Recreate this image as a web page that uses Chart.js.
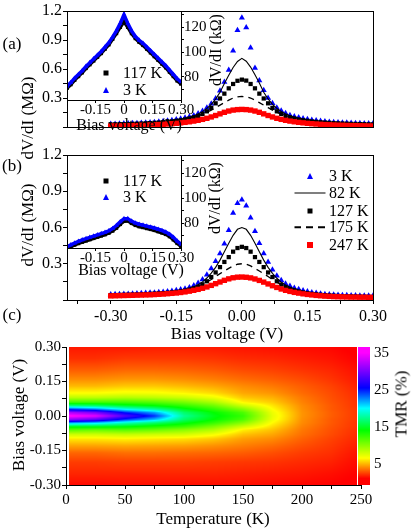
<!DOCTYPE html>
<html lang="en">
<head>
<meta charset="UTF-8">
<title>dV/dI and TMR</title>
<script src="https://cdn.jsdelivr.net/npm/chart.js"></script>
<style>
  body { margin: 0; background: #fff; }
  #wrap { position: relative; width: 412px; height: 528px; font-family: 'Liberation Serif', 'Times New Roman', serif; color: #000; }
  canvas { position: absolute; left: 0; top: 0; }
  .t { position: absolute; white-space: nowrap; transform: translate(-50%, -50%); font-size: 17px; line-height: 1; }
  .rot { transform: translate(-50%, -50%) rotate(-90deg); }
  .lg { position: absolute; white-space: nowrap; font-size: 16px; line-height: 1; transform: translateY(-50%); }
  .sym { position: absolute; transform: translate(-50%, -50%); }
  .tri { width: 0; height: 0; border-left: 3.5px solid transparent; border-right: 3.5px solid transparent; border-bottom: 6px solid #0000ff; }
  .sq { width: 5px; height: 5px; background: #000; }
</style>
</head>
<body>
<div id="wrap">
  <canvas id="mainA" width="412" height="528"></canvas>
  <canvas id="mainB" width="412" height="528"></canvas>
  <canvas id="insetA" width="412" height="528"></canvas>
  <canvas id="insetB" width="412" height="528"></canvas>
  <canvas id="heat" width="412" height="528"></canvas>

  <div class="t" style="left:12px; top:43px;">(a)</div>
  <div class="t" style="left:12px; top:165px;">(b)</div>
  <div class="t" style="left:12px; top:314px;">(c)</div>

  <div class="t rot" style="left:27px; top:118px;">dV/dI (MΩ)</div>
  <div class="t rot" style="left:27px; top:225px;">dV/dI (MΩ)</div>
  <div class="t" style="left:227px; top:333px;">Bias voltage (V)</div>

  <div class="t" style="left:129px; top:125px; font-size:16px;">Bias voltage (V)</div>
  <div class="t" style="left:131px; top:270px; font-size:16px;">Bias voltage (V)</div>
  <div class="t rot" style="left:216px; top:50px; font-size:16px;">dV/dI (kΩ)</div>
  <div class="t rot" style="left:215px; top:198px; font-size:16px;">dV/dI (kΩ)</div>

  <div class="sym sq" style="left:106px; top:73px;"></div>
  <div class="lg" style="left:123px; top:73px;">117 K</div>
  <div class="sym tri" style="left:106px; top:90px;"></div>
  <div class="lg" style="left:123px; top:90px;">3 K</div>
  <div class="sym sq" style="left:106px; top:181px;"></div>
  <div class="lg" style="left:123px; top:181px;">117 K</div>
  <div class="sym tri" style="left:106px; top:197px;"></div>
  <div class="lg" style="left:123px; top:197px;">3 K</div>

  <div class="sym tri" style="left:310px; top:176px;"></div>
  <div class="lg" style="left:329px; top:176px;">3 K</div>
  <div class="sym" style="left:310px; top:193px; width:31px; height:1px; background:#000;"></div>
  <div class="lg" style="left:329px; top:193px;">82 K</div>
  <div class="sym sq" style="left:310px; top:211px;"></div>
  <div class="lg" style="left:329px; top:211px;">127 K</div>
  <div class="sym" style="left:310px; top:227px; width:31px; height:1.5px; background:repeating-linear-gradient(to right, #000 0 7px, transparent 7px 12px);"></div>
  <div class="lg" style="left:329px; top:227px;">175 K</div>
  <div class="sym sq" style="left:310px; top:245px; width:6px; height:6px; background:#ff0000;"></div>
  <div class="lg" style="left:329px; top:245px;">247 K</div>

  <div class="t rot" style="left:18px; top:415px;">Bias voltage (V)</div>
  <div class="t" style="left:213px; top:518px;">Temperature (K)</div>
  <div class="t rot" style="left:401px; top:404px;">TMR (%)</div>
</div>

<script>
// bias points of the main curves (V)
const biasMain = [-0.30,-0.29,-0.28,-0.27,-0.26,-0.25,-0.24,-0.23,-0.22,-0.21,-0.20,-0.19,-0.18,-0.17,-0.16,-0.15,-0.14,-0.13,-0.12,-0.11,-0.10,-0.09,-0.08,-0.07,-0.06,-0.05,-0.04,-0.03,-0.02,-0.01,0,0.01,0.02,0.03,0.04,0.05,0.06,0.07,0.08,0.09,0.10,0.11,0.12,0.13,0.14,0.15,0.16,0.17,0.18,0.19,0.20,0.21,0.22,0.23,0.24,0.25,0.26,0.27,0.28,0.29,0.30];

// panel (a), dV/dI in MOhm
const a3K   = [0.031,0.032,0.033,0.035,0.036,0.038,0.040,0.042,0.044,0.047,0.050,0.054,0.059,0.064,0.070,0.077,0.085,0.095,0.106,0.120,0.140,0.166,0.198,0.240,0.295,0.375,0.465,0.590,0.790,1.000,1.130,1.030,0.820,0.610,0.480,0.380,0.300,0.245,0.200,0.168,0.142,0.122,0.108,0.097,0.087,0.079,0.072,0.066,0.061,0.057,0.053,0.050,0.047,0.045,0.043,0.041,0.040,0.038,0.037,0.036,0.035];
const a82K  = [0.031,0.032,0.033,0.034,0.036,0.037,0.039,0.041,0.043,0.046,0.049,0.053,0.057,0.061,0.067,0.073,0.081,0.090,0.101,0.115,0.134,0.159,0.192,0.234,0.289,0.360,0.450,0.535,0.615,0.678,0.710,0.680,0.620,0.540,0.455,0.360,0.290,0.235,0.193,0.160,0.135,0.116,0.102,0.091,0.082,0.074,0.068,0.062,0.058,0.054,0.050,0.047,0.044,0.042,0.040,0.038,0.037,0.035,0.034,0.033,0.032];
const a127K = [0.026,0.027,0.028,0.029,0.030,0.032,0.034,0.036,0.038,0.040,0.043,0.046,0.049,0.053,0.058,0.064,0.070,0.078,0.088,0.100,0.115,0.135,0.162,0.198,0.245,0.295,0.345,0.400,0.445,0.478,0.490,0.480,0.445,0.400,0.345,0.295,0.245,0.198,0.162,0.135,0.115,0.100,0.088,0.078,0.070,0.064,0.058,0.053,0.049,0.046,0.043,0.040,0.038,0.036,0.034,0.032,0.031,0.030,0.029,0.028,0.027];
const a175K = [0.021,0.022,0.023,0.025,0.026,0.028,0.030,0.032,0.034,0.037,0.040,0.044,0.048,0.052,0.058,0.064,0.071,0.080,0.090,0.102,0.116,0.133,0.153,0.175,0.200,0.226,0.252,0.278,0.300,0.312,0.316,0.312,0.300,0.278,0.252,0.226,0.200,0.175,0.153,0.133,0.116,0.102,0.090,0.080,0.071,0.064,0.058,0.052,0.048,0.044,0.040,0.037,0.034,0.032,0.030,0.028,0.026,0.025,0.023,0.022,0.021];
const a247K = [0.010,0.011,0.012,0.013,0.014,0.015,0.016,0.018,0.019,0.021,0.023,0.025,0.028,0.031,0.034,0.038,0.043,0.048,0.054,0.061,0.069,0.079,0.090,0.104,0.119,0.136,0.152,0.165,0.175,0.180,0.182,0.180,0.175,0.165,0.152,0.136,0.119,0.104,0.090,0.079,0.069,0.061,0.054,0.048,0.043,0.038,0.034,0.031,0.028,0.025,0.023,0.021,0.019,0.018,0.016,0.015,0.014,0.013,0.012,0.011,0.010];

// panel (b), dV/dI in MOhm
const b3K   = [0.046,0.047,0.048,0.049,0.050,0.051,0.053,0.055,0.057,0.059,0.061,0.064,0.067,0.071,0.075,0.080,0.086,0.094,0.104,0.120,0.140,0.170,0.210,0.260,0.320,0.385,0.465,0.578,0.720,0.800,0.830,0.780,0.680,0.570,0.470,0.385,0.315,0.250,0.200,0.163,0.135,0.115,0.100,0.088,0.078,0.070,0.063,0.057,0.052,0.048,0.045,0.043,0.041,0.040,0.039,0.038,0.037,0.036,0.036,0.035,0.035];
const b82K  = [0.043,0.044,0.045,0.046,0.047,0.048,0.049,0.051,0.053,0.055,0.057,0.059,0.062,0.065,0.069,0.073,0.079,0.087,0.097,0.110,0.126,0.150,0.182,0.222,0.270,0.330,0.400,0.470,0.535,0.585,0.600,0.585,0.535,0.470,0.400,0.330,0.270,0.220,0.180,0.148,0.124,0.106,0.092,0.081,0.072,0.065,0.059,0.054,0.050,0.047,0.044,0.041,0.039,0.037,0.036,0.035,0.034,0.033,0.032,0.031,0.030];
const b127K = [0.040,0.041,0.042,0.043,0.044,0.045,0.046,0.047,0.049,0.051,0.053,0.055,0.057,0.060,0.063,0.067,0.072,0.078,0.086,0.096,0.110,0.130,0.155,0.190,0.228,0.272,0.315,0.355,0.400,0.430,0.440,0.430,0.400,0.355,0.315,0.272,0.228,0.190,0.155,0.128,0.107,0.092,0.080,0.070,0.062,0.056,0.051,0.047,0.043,0.040,0.038,0.036,0.034,0.032,0.031,0.030,0.029,0.028,0.027,0.026,0.025];
const b175K = [0.037,0.038,0.039,0.040,0.041,0.042,0.043,0.044,0.046,0.048,0.050,0.052,0.055,0.058,0.062,0.066,0.072,0.079,0.087,0.097,0.110,0.128,0.148,0.170,0.194,0.218,0.240,0.262,0.282,0.296,0.300,0.296,0.282,0.262,0.240,0.218,0.194,0.170,0.148,0.128,0.110,0.096,0.084,0.074,0.066,0.059,0.053,0.048,0.044,0.040,0.037,0.034,0.032,0.030,0.028,0.027,0.026,0.025,0.024,0.023,0.022];
const b247K = [0.034,0.035,0.036,0.037,0.038,0.039,0.040,0.041,0.042,0.043,0.045,0.047,0.049,0.052,0.055,0.058,0.062,0.067,0.073,0.080,0.088,0.097,0.108,0.121,0.135,0.149,0.163,0.175,0.184,0.189,0.190,0.188,0.183,0.174,0.162,0.148,0.133,0.118,0.104,0.091,0.080,0.071,0.063,0.057,0.051,0.046,0.042,0.038,0.035,0.032,0.030,0.028,0.027,0.026,0.025,0.024,0.024,0.023,0.023,0.022,0.022];

// insets, dV/dI in kOhm
const biasInset = [-0.30,-0.28,-0.26,-0.24,-0.22,-0.20,-0.18,-0.16,-0.14,-0.12,-0.10,-0.08,-0.06,-0.04,-0.02,0,0.02,0.04,0.06,0.08,0.10,0.12,0.14,0.16,0.18,0.20,0.22,0.24,0.26,0.28,0.30];
const insetA3K   = [72.5,75.5,79,82,85,88.5,91.5,94.5,97.5,100.5,104,107.5,112,117,123,130,123,117,112.5,109.5,107,104,101,98,95,92,89,85.5,82,78.5,76];
const insetA117K = [71,74,77.5,80.5,83.5,87,90,93,96,99,102.5,106,110.5,115,120,124.5,120,115,111,108,105.5,102.5,99.5,96.5,93.5,90.5,87.5,84,80.5,77,74.5];
const insetB3K   = [61,62.5,64,65.3,66.5,67.5,68.5,69.5,70.5,71.5,72.5,73.8,75.5,78,81,83.5,83.5,81.5,80,79,78.3,77.5,76.8,76,75,74,72.8,71,68.5,65.5,63];
const insetB117K = [59.5,61,62.5,63.7,64.8,65.8,66.8,67.8,68.8,69.8,70.8,72,73.7,76,79,81.5,81.8,79.8,78.2,77.2,76.5,75.7,75,74.2,73.2,72.2,71,69.2,66.7,63.8,61.3];

// panel (c): TMR (%) on a temperature x bias grid
const tmrTemps = [3, 25, 50, 75, 100, 125, 150, 175, 200, 225, 247];
const tmrBias = [0.30, 0.25, 0.20, 0.16, 0.13, 0.10, 0.08, 0.06, 0.045, 0.03, 0.015, 0, -0.015, -0.03, -0.045, -0.06, -0.08, -0.10, -0.13, -0.16, -0.20, -0.25, -0.30];
const tmrGrid = [
  [1.5,1.5,1.5,1.6,1.6,1.5,1.4,1.3,1.2,1.1,0.8],
  [2.0,2.0,2.2,2.2,2.2,2.1,1.9,1.8,1.6,1.4,1.0],
  [3.0,3.0,3.2,3.2,3.1,2.9,2.6,2.4,2.1,1.8,1.3],
  [4.0,4.0,4.2,4.2,4.0,3.7,3.3,3.0,2.6,2.1,1.5],
  [5.0,5.0,5.3,5.3,5.0,4.6,4.0,3.6,3.0,2.4,1.7],
  [6.5,6.5,6.8,6.7,6.3,5.7,4.6,4.2,3.3,2.6,1.9],
  [8.5,8.5,8.8,8.5,8.0,7.0,5.3,4.8,3.6,2.7,2.0],
  [12.0,12.0,12.0,11.5,10.5,9.0,6.3,5.4,3.8,2.8,2.1],
  [17.0,16.5,15.0,14.0,12.5,10.8,8.0,6.0,4.0,2.9,2.1],
  [24.0,22.5,19.5,17.5,14.5,12.5,10.0,6.5,4.1,2.9,2.2],
  [32.0,30.0,25.0,22.0,16.5,14.0,11.8,7.0,4.2,3.0,2.2],
  [35.5,34.0,28.5,24.5,17.5,14.5,12.5,7.2,4.2,3.0,2.2],
  [31.0,29.0,24.5,21.5,16.5,14.0,11.8,7.0,4.1,2.9,2.2],
  [22.0,21.0,18.5,16.5,14.5,12.5,10.0,6.4,4.0,2.9,2.1],
  [15.0,15.0,14.5,13.5,12.5,10.5,8.0,5.8,3.8,2.8,2.1],
  [11.5,11.0,11.5,11.0,10.0,8.8,6.2,5.2,3.6,2.7,2.0],
  [8.0,8.0,8.3,8.0,7.8,6.8,5.2,4.6,3.4,2.6,1.9],
  [6.0,6.0,6.2,6.0,5.8,5.3,4.4,4.0,3.1,2.4,1.8],
  [4.5,4.5,4.6,4.5,4.4,4.1,3.7,3.3,2.7,2.2,1.6],
  [3.2,3.2,3.4,3.4,3.3,3.2,3.0,2.7,2.3,2.0,1.4],
  [2.3,2.3,2.4,2.4,2.4,2.3,2.2,2.1,1.9,1.7,1.2],
  [1.8,1.8,1.8,1.8,1.8,1.8,1.7,1.6,1.5,1.3,1.0],
  [1.2,1.2,1.3,1.3,1.3,1.3,1.3,1.2,1.1,1.0,0.8]
];

// tick positions
const mainYTicks = [0, 0.15, 0.3, 0.45, 0.6, 0.75, 0.9, 1.05, 1.2];
const mainXTicks = [-0.375, -0.3, -0.225, -0.15, -0.075, 0, 0.075, 0.15, 0.225, 0.3];
const insetXTicks = [-0.3, -0.15, 0, 0.15, 0.3];
const insetYTicks = [70, 80, 90, 100, 110, 120, 130];
const heatXTicks = [0, 25, 50, 75, 100, 125, 150, 175, 200, 225, 250];
const heatYTicks = [-0.3, -0.225, -0.15, -0.075, 0, 0.075, 0.15, 0.225, 0.3];
const barTicks = [5, 15, 25, 35];

Chart.defaults.font.family = "'Liberation Serif', 'Times New Roman', serif";
Chart.defaults.color = '#000';

const pts = (xs, ys) => xs.map((x, i) => ({ x: x, y: ys[i] }));
const fixSize = n => s => { if (s.isHorizontal()) s.height = n; else s.width = n; };
const setTicks = list => s => { s.ticks = list.map(v => ({ value: v })); };
const tickGrid = len => ({ drawOnChartArea: false, drawTicks: true, tickLength: len, color: '#000', lineWidth: 1 });
const flat = { maxRotation: 0, minRotation: 0, autoSkip: false };
const isStep = (v, step) => Math.abs(v / step - Math.round(v / step)) < 1e-6;

const framePlugin = {
  id: 'frame',
  beforeDraw(chart, args, opts) {
    if (!opts.fill) return;
    const { ctx, chartArea: a } = chart;
    ctx.save();
    ctx.fillStyle = '#fff';
    ctx.fillRect(a.left, a.top, a.right - a.left, a.bottom - a.top);
    ctx.restore();
  },
  afterDraw(chart) {
    const { ctx, chartArea: a } = chart;
    ctx.save();
    ctx.strokeStyle = '#000';
    ctx.lineWidth = 1;
    ctx.strokeRect(Math.round(a.left) + 0.5, Math.round(a.top) + 0.5, Math.round(a.right - a.left), Math.round(a.bottom - a.top));
    ctx.restore();
  }
};

function mainDatasets(d3, d82, d127, d175, d247) {
  return [
    { data: pts(biasMain, d247), showLine: false, pointStyle: 'rect', pointRadius: 3.8, pointBorderWidth: 0, pointBackgroundColor: '#ff0000' },
    { data: pts(biasMain, d127), showLine: false, pointStyle: 'rect', pointRadius: 3, pointBorderWidth: 0, pointBackgroundColor: '#000' },
    { data: pts(biasMain, d175), showLine: true, borderColor: '#000', borderWidth: 1.3, borderDash: [6, 5], pointRadius: 0 },
    { data: pts(biasMain, d82), showLine: true, borderColor: '#000', borderWidth: 1.1, pointRadius: 0 },
    { data: pts(biasMain, d3), showLine: false, pointStyle: 'triangle', pointRadius: 3.5, pointBorderWidth: 0, pointBackgroundColor: '#0000ff' }
  ];
}

function mainChart(id, pad, datasets, showX) {
  return new Chart(document.getElementById(id), {
    type: 'scatter',
    data: { datasets: datasets },
    options: {
      responsive: false, animation: false, events: [], devicePixelRatio: 1,
      layout: { padding: pad },
      plugins: { legend: { display: false }, tooltip: { enabled: false }, frame: {} },
      scales: {
        x: {
          type: 'linear', min: -0.4, max: 0.3, display: showX,
          afterFit: fixSize(28), afterBuildTicks: setTicks(mainXTicks),
          grid: tickGrid(4), border: { display: false },
          ticks: { ...flat, padding: 3, font: { size: 16 }, callback: v => isStep(v, 0.15) ? v.toFixed(2) : '' }
        },
        y: {
          type: 'linear', min: 0, max: 1.2,
          afterFit: fixSize(60), afterBuildTicks: setTicks(mainYTicks),
          grid: tickGrid(4), border: { display: false },
          ticks: { ...flat, padding: 1, font: { size: 16 }, callback: v => (isStep(v, 0.3) && v > 0.01) ? v.toFixed(1) : '' }
        }
      }
    },
    plugins: [framePlugin]
  });
}

mainChart('mainA', { left: 7, top: 11, right: 39, bottom: 373 }, mainDatasets(a3K, a82K, a127K, a175K, a247K), false);
mainChart('mainB', { left: 7, top: 155, right: 39, bottom: 200 }, mainDatasets(b3K, b82K, b127K, b175K, b247K), true);

function insetChart(id, pad, yMin, yMax, d3, d117) {
  return new Chart(document.getElementById(id), {
    type: 'scatter',
    data: {
      datasets: [
        { data: pts(biasInset, d3), showLine: true, borderColor: '#0000ff', borderWidth: 3.5, pointStyle: 'triangle', pointRadius: 2.8, pointBorderWidth: 0, pointBackgroundColor: '#0000ff' },
        { data: pts(biasInset, d117), showLine: true, borderColor: '#000', borderWidth: 3.5, pointStyle: 'rect', pointRadius: 2.6, pointBorderWidth: 0, pointBackgroundColor: '#000' }
      ]
    },
    options: {
      responsive: false, animation: false, events: [], devicePixelRatio: 1,
      layout: { padding: pad },
      plugins: { legend: { display: false }, tooltip: { enabled: false }, frame: { fill: true } },
      scales: {
        x: {
          type: 'linear', min: -0.3, max: 0.3,
          afterFit: fixSize(22), afterBuildTicks: setTicks(insetXTicks),
          grid: tickGrid(3), border: { display: false },
          ticks: { ...flat, padding: -2, font: { size: 15 }, callback: v => Math.abs(v) < 1e-9 ? '0' : (v < -0.2 ? '' : v.toFixed(2)) }
        },
        y: {
          type: 'linear', position: 'right', min: yMin, max: yMax,
          afterFit: fixSize(40), afterBuildTicks: setTicks(insetYTicks),
          grid: tickGrid(3), border: { display: false },
          ticks: { ...flat, padding: 0, font: { size: 15 }, callback: v => (v % 20 === 0) ? String(v) : '' }
        }
      }
    },
    plugins: [framePlugin]
  });
}

insetChart('insetA', { left: 67, top: 11, right: 191, bottom: 406 }, 61.5, 133, insetA3K, insetA117K);
insetChart('insetB', { left: 67, top: 155, right: 191, bottom: 258 }, 60, 134.4, insetB3K, insetB117K);

// TMR colour scale: red -> yellow -> green -> cyan -> blue -> magenta
function tmrRGB(v) {
  let h;
  if (v <= 1) h = 0;
  else if (v < 6.5) h = (v - 1) / 5.5 * 60;
  else if (v < 14) h = 60 + (v - 6.5) / 7.5 * 60;
  else if (v < 20) h = 120 + (v - 14) / 6 * 60;
  else if (v < 25.5) h = 180 + (v - 20) / 5.5 * 60;
  else h = 240 + Math.min(v - 25.5, 9.5) / 9.5 * 60;
  const k = n => (n + h / 60) % 6;
  const f = n => Math.round(255 * (1 - Math.max(0, Math.min(k(n), 4 - k(n), 1))));
  return [f(5), f(3), f(1)];
}

// smooth shading between the grid nodes
function tmrAt(t, v) {
  const nT = tmrTemps.length, nV = tmrBias.length;
  t = Math.min(Math.max(t, tmrTemps[0]), tmrTemps[nT - 1]);
  v = Math.min(Math.max(v, tmrBias[nV - 1]), tmrBias[0]);
  let i = 0;
  while (i < nT - 2 && t > tmrTemps[i + 1]) i++;
  let j = 0;
  while (j < nV - 2 && v < tmrBias[j + 1]) j++;
  const ft = (t - tmrTemps[i]) / (tmrTemps[i + 1] - tmrTemps[i]);
  const fv = (tmrBias[j] - v) / (tmrBias[j] - tmrBias[j + 1]);
  const top = tmrGrid[j][i] * (1 - ft) + tmrGrid[j][i + 1] * ft;
  const bot = tmrGrid[j + 1][i] * (1 - ft) + tmrGrid[j + 1][i + 1] * ft;
  return top * (1 - fv) + bot * fv;
}

const heatPlugin = {
  id: 'heatmap',
  beforeDraw(chart) {
    const { ctx, chartArea: a, scales } = chart;
    const x = scales.x, y = scales.y, c = scales.c;
    const x0 = Math.round(x.getPixelForValue(tmrTemps[0] - 0.5));
    const x1 = Math.round(x.getPixelForValue(tmrTemps[tmrTemps.length - 1]));
    const y0 = Math.round(a.top), y1 = Math.round(a.bottom);
    const w = x1 - x0, h = y1 - y0;
    const img = ctx.createImageData(w, h);
    for (let j = 0; j < h; j++) {
      const v = y.getValueForPixel(y0 + j + 0.5);
      for (let i = 0; i < w; i++) {
        const t = x.getValueForPixel(x0 + i + 0.5);
        const rgb = tmrRGB(tmrAt(t, v));
        const k = (j * w + i) * 4;
        img.data[k] = rgb[0]; img.data[k + 1] = rgb[1]; img.data[k + 2] = rgb[2]; img.data[k + 3] = 255;
      }
    }
    ctx.putImageData(img, x0, y0);
    // colour bar next to the map
    const cbL = x1 + 1, cbR = Math.round(a.right) + 9;
    for (let j = 0; j < h; j++) {
      const rgb = tmrRGB(c.getValueForPixel(y0 + j + 0.5));
      ctx.fillStyle = 'rgb(' + rgb.join(',') + ')';
      ctx.fillRect(cbL, y0 + j, cbR - cbL, 1);
    }
  }
};

new Chart(document.getElementById('heat'), {
  type: 'scatter',
  data: { datasets: [] },
  options: {
    responsive: false, animation: false, events: [], devicePixelRatio: 1,
    layout: { padding: { left: 6, top: 347, right: 11, bottom: 13 } },
    plugins: { legend: { display: false }, tooltip: { enabled: false } },
    scales: {
      x: {
        type: 'linear', min: 0, max: 250,
        afterFit: fixSize(30), afterBuildTicks: setTicks(heatXTicks),
        grid: tickGrid(4), border: { display: true, color: '#000', width: 1 },
        ticks: { ...flat, padding: 2, font: { size: 15 }, callback: v => isStep(v, 50) ? String(v) : '' }
      },
      y: {
        type: 'linear', min: -0.3, max: 0.3,
        afterFit: fixSize(60), afterBuildTicks: setTicks(heatYTicks),
        grid: tickGrid(4), border: { display: true, color: '#000', width: 1 },
        ticks: { ...flat, padding: 1, font: { size: 15 }, callback: v => isStep(v, 0.15) ? v.toFixed(2) : '' }
      },
      c: {
        type: 'linear', axis: 'y', position: 'right', min: -0.8, max: 36.6,
        afterFit: fixSize(40), afterBuildTicks: setTicks(barTicks),
        grid: { display: false, drawTicks: false }, border: { display: false },
        ticks: { ...flat, padding: 13, font: { size: 15 } }
      }
    }
  },
  plugins: [heatPlugin]
});
</script>
</body>
</html>
